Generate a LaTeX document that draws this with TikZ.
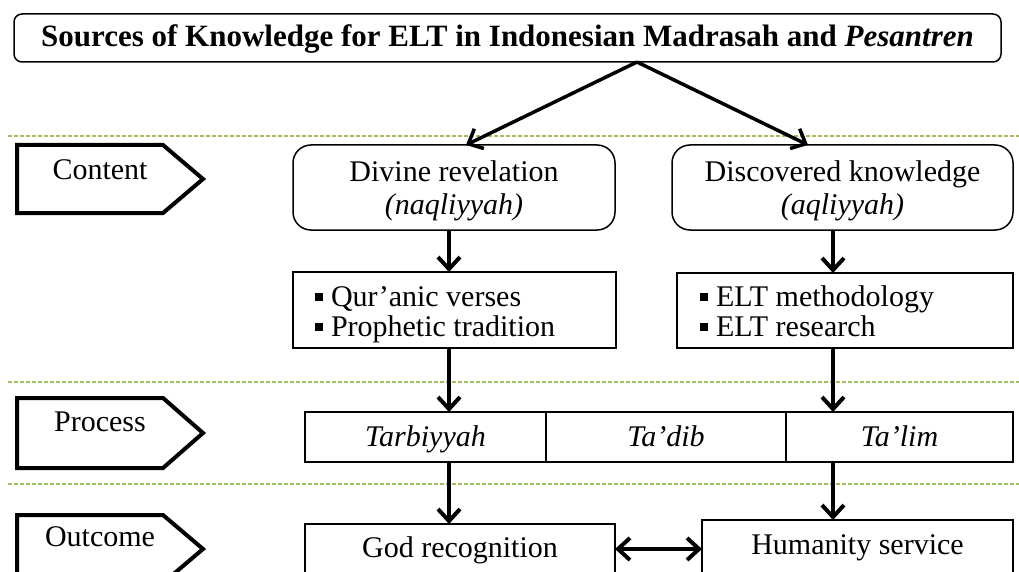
\documentclass[tikz,border=0pt]{standalone}
\usepackage{fontspec}
\setmainfont{Liberation Serif}
\usetikzlibrary{arrows.meta,calc}
\definecolor{sepgreen}{RGB}{160,190,95}
\newcommand\mybullet{\rule[5pt]{8pt}{8pt}\hspace{8pt}}
\begin{document}
\begin{tikzpicture}[x=1pt,y=-1pt,
  every node/.style={font=\fontsize{30}{36}\selectfont, inner sep=0pt, outer sep=0pt},
  txt/.style={text height=24pt, text depth=6pt},
  box/.style={draw=black, line width=1.5pt, rectangle},
  rbox/.style={box, rounded corners=18pt},
  pent/.style={draw=black, line width=4pt, line join=miter},
  sep/.style={draw=sepgreen, line width=1.5pt, dash pattern=on 4pt off 2pt},
  arr/.style={line width=4pt, -{Straight Barb[length=12pt,width=22pt]}},
  darr/.style={line width=4pt, {Straight Barb[length=12pt,width=22pt]}-{Straight Barb[length=12pt,width=22pt]}},
]
\useasboundingbox (0,0) rectangle (1019,572);
\fill[white] (0,0) rectangle (1019,572);
\clip (0,0) rectangle (1019,572);

% separators
\draw[sep] (8,136) -- (1019,136);
\draw[sep] (8,382) -- (1019,382);
\draw[sep] (8,484) -- (1019,484);

% title
\node[box, rounded corners=8pt, minimum width=987pt, minimum height=48pt, txt,
      font=\fontsize{31}{36}\selectfont\bfseries] (title) at (507.5,38)
  {Sources of Knowledge for ELT in Indonesian Madrasah and \textit{Pesantren}};

% row labels (pentagons)
\draw[pent] (17,145) -- (163,145) -- (203,179) -- (163,213) -- (17,213) -- cycle;
\node[txt] (lcontent) at (100,170) {Content};
\draw[pent] (17,398) -- (163,398) -- (203,433) -- (163,468) -- (17,468) -- cycle;
\node[txt] (lprocess) at (100,422) {Process};
\draw[pent] (17,515) -- (163,515) -- (203,549) -- (163,583) -- (17,583) -- cycle;
\node[txt] (loutcome) at (100,537) {Outcome};

% content boxes
\node[rbox, minimum width=322pt, minimum height=85pt] (div) at (454,187.5) {};
\node[txt] (divt1) at (454,173) {Divine revelation};
\node[txt] (divt2) at (454,205) {\textit{(naqliyyah)}};
\node[rbox, minimum width=341pt, minimum height=85pt] (dis) at (842.5,187.5) {};
\node[txt] (dist1) at (842.5,173) {Discovered knowledge};
\node[txt] (dist2) at (842.5,205) {\textit{(aqliyyah)}};

% source lists
\node[box, minimum width=323pt, minimum height=76pt] (qur) at (454.5,310) {};
\node[anchor=base west] (q1) at (315,306) {\mybullet Qur’anic verses};
\node[anchor=base west] (q2) at (315,336) {\mybullet Prophetic tradition};
\node[box, minimum width=336pt, minimum height=75pt] (elt) at (845,310.5) {};
\node[anchor=base west] (e1) at (700,306) {\mybullet ELT methodology};
\node[anchor=base west] (e2) at (700,336) {\mybullet ELT research};

% process row
\node[box, txt, minimum width=241pt, minimum height=50pt] (tar) at (425.5,437) {\textit{Tarbiyyah}};
\node[box, txt, minimum width=240pt, minimum height=50pt] (tad) at (666,437) {\textit{Ta’dib}};
\node[box, txt, minimum width=227pt, minimum height=50pt] (tal) at (899.5,437) {\textit{Ta’lim}};

% outcomes
\node[box, minimum width=310pt, minimum height=86pt] (god) at (460,567) {};
\node[txt] (godt) at (460,548) {God recognition};
\node[box, minimum width=311pt, minimum height=90pt] (hum) at (857.5,565) {};
\node[txt] (humt) at (857.5,545) {Humanity service};

% connectors
\coordinate (cl) at (449,0);
\coordinate (cr) at (833,0);
\coordinate (apex) at (637,0);
\coordinate (divtip) at (466,145);
\coordinate (distip) at (808,145);
\coordinate (dy) at (0,549);
\draw[arr, line width=3.5pt] (title.south -| apex) -- (divtip);
\draw[arr, line width=3.5pt] (title.south -| apex) -- (distip);
\draw[arr] (div.south -| cl) -- (qur.north -| cl);
\draw[arr] (dis.south -| cr) -- (elt.north -| cr);
\draw[arr] (qur.south -| cl) -- (tar.north -| cl);
\draw[arr] (elt.south -| cr) -- (tal.north -| cr);
\draw[arr] (tar.south -| cl) -- (god.north -| cl);
\draw[arr] (tal.south -| cr) -- (hum.north -| cr);
\draw[darr] (god.east |- dy) -- (hum.west |- dy);
\end{tikzpicture}
\end{document}
